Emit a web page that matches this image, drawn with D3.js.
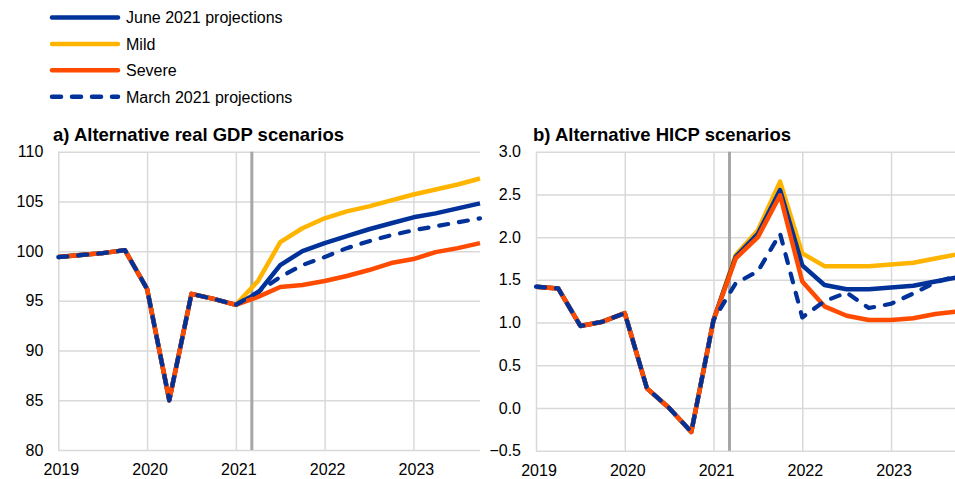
<!DOCTYPE html>
<html>
<head>
<meta charset="utf-8">
<script src="https://cdn.jsdelivr.net/npm/d3@7"></script>
<style>
  body { margin: 0; background: #fff; }
  svg { font-family: Arial, "Liberation Sans", sans-serif; }
  .grid line { stroke: #d9d9d9; stroke-width: 1.5; }
  .grid path { display: none; }
  .tick text { font-size: 16px; fill: #000; }
</style>
</head>
<body>
<div id="chart"></div>
<script>
// quarters 2019Q1 .. 2023Q4
var quarters = ["2019Q1","2019Q2","2019Q3","2019Q4","2020Q1","2020Q2","2020Q3","2020Q4",
                "2021Q1","2021Q2","2021Q3","2021Q4","2022Q1","2022Q2","2022Q3","2022Q4",
                "2023Q1","2023Q2","2023Q3","2023Q4"];
var years = [2019, 2020, 2021, 2022, 2023];
var cutoff = 2021.18;

// a) real GDP (index)
var gdpHist = [99.4, 99.6, 99.8, 100.1, 96.2, 85.0, 95.7, 95.2, 94.6];
var gdpJune = gdpHist.concat([95.8, 98.6, 100.0, 100.8, 101.5, 102.2, 102.8, 103.4, 103.8, 104.3, 104.8]);
var gdpMild = gdpHist.concat([97.0, 100.9, 102.3, 103.3, 104.0, 104.5, 105.1, 105.7, 106.2, 106.7, 107.3]);
var gdpSevere = gdpHist.concat([95.4, 96.4, 96.6, 97.0, 97.5, 98.1, 98.8, 99.2, 99.9, 100.3, 100.8]);
var gdpMarch = gdpHist.concat([95.9, 97.4, 98.6, 99.4, 100.3, 101.0, 101.6, 102.1, 102.5, 102.9, 103.3]);
var gdpTicks = [80, 85, 90, 95, 100, 105, 110];

// b) HICP (annual % change)
var hicpHist = [1.42, 1.40, 0.96, 1.01, 1.11, 0.23, 0.0, -0.28, 1.03];
var hicpJune = hicpHist.concat([1.77, 2.04, 2.55, 1.67, 1.44, 1.39, 1.39, 1.41, 1.43, 1.48, 1.53]);
var hicpMild = hicpHist.concat([1.79, 2.08, 2.65, 1.81, 1.66, 1.66, 1.66, 1.68, 1.70, 1.75, 1.80]);
var hicpSevere = hicpHist.concat([1.75, 2.00, 2.49, 1.48, 1.19, 1.08, 1.03, 1.03, 1.05, 1.10, 1.13]);
var hicpMarch = hicpHist.concat([1.46, 1.60, 2.04, 1.06, 1.25, 1.35, 1.17, 1.22, 1.34, 1.47, 1.55]);
var hicpTicks = [-0.5, 0.0, 0.5, 1.0, 1.5, 2.0, 2.5, 3.0];

var seriesNames = ["June 2021 projections", "Mild", "Severe", "March 2021 projections"];
var colors = { june: "#003299", mild: "#ffb400", severe: "#ff4b00", march: "#003299" };

var W = 955, H = 479;
var svg = d3.select("#chart").append("svg").attr("width", W).attr("height", H);

function qpos(q) {
  return +q.slice(0, 4) + (+q.slice(5) - 1) / 4;
}

// legend
var legend = [
  { name: seriesNames[0], color: colors.june, dash: null },
  { name: seriesNames[1], color: colors.mild, dash: null },
  { name: seriesNames[2], color: colors.severe, dash: null },
  { name: seriesNames[3], color: colors.march, dash: "9,11" }
];
var lg = svg.selectAll("g.legend").data(legend).enter().append("g")
  .attr("class", "legend")
  .attr("transform", function(d, i) { return "translate(0," + (17.5 + i * 26.4) + ")"; });
lg.append("line").attr("x1", 52).attr("x2", 118).attr("y1", 0).attr("y2", 0)
  .attr("stroke", function(d) { return d.color; })
  .attr("stroke-width", 4.5)
  .attr("stroke-linecap", "round")
  .attr("stroke-dasharray", function(d) { return d.dash; });
lg.append("text").attr("x", 126).attr("y", 5.8).attr("font-size", 16)
  .text(function(d) { return d.name; });

function panel(opt) {
  var x = d3.scaleLinear().domain([2019, 2023.75]).range([opt.x0, opt.x1]);
  var y = d3.scaleLinear().domain(opt.domain).range([opt.y1, opt.y0]);
  var g = svg.append("g");

  g.append("g").attr("class", "grid")
    .attr("transform", "translate(" + opt.x0 + ",0)")
    .call(d3.axisLeft(y).tickValues(opt.ticks).tickSize(-(opt.x1 - opt.x0)).tickPadding(15)
      .tickFormat(opt.fmt));

  g.append("g").attr("class", "grid")
    .attr("transform", "translate(0," + opt.y1 + ")")
    .call(d3.axisBottom(x).tickValues(years).tickSize(-(opt.y1 - opt.y0)).tickPadding(14)
      .tickFormat(d3.format("d")))
    .selectAll("text").attr("dx", 2.5);

  g.append("line")
    .attr("x1", x(cutoff)).attr("x2", x(cutoff))
    .attr("y1", opt.y0).attr("y2", opt.y1)
    .attr("stroke", "#a6a6a6").attr("stroke-width", 3);

  g.append("text").attr("x", opt.tx).attr("y", 140.5)
    .attr("font-size", 18.5).attr("font-weight", "bold")
    .text(opt.title);

  var line = d3.line()
    .x(function(d, i) { return x(qpos(quarters[i])); })
    .y(function(d) { return y(d); });

  opt.series.forEach(function(s) {
    g.append("path").datum(s.values)
      .attr("fill", "none")
      .attr("stroke", s.color)
      .attr("stroke-width", s.dash ? 4.2 : 4.5)
      .attr("stroke-linejoin", "round")
      .attr("stroke-linecap", s.dash ? "round" : "butt")
      .attr("stroke-dasharray", s.dash)
      .attr("d", line);
  });
}

panel({
  x0: 58.3, x1: 480, y0: 151.7, y1: 450,
  domain: [80, 110], ticks: gdpTicks, fmt: d3.format("d"),
  tx: 53, title: "a) Alternative real GDP scenarios",
  series: [
    { values: gdpMild, color: colors.mild },
    { values: gdpJune, color: colors.june },
    { values: gdpSevere, color: colors.severe },
    { values: gdpMarch, color: colors.march, dash: "9,11" }
  ]
});

panel({
  x0: 536, x1: 957.6, y0: 151.7, y1: 450.7,
  domain: [-0.5, 3], ticks: hicpTicks, fmt: d3.format(".1f"),
  tx: 533, title: "b) Alternative HICP scenarios",
  series: [
    { values: hicpMild, color: colors.mild },
    { values: hicpJune, color: colors.june },
    { values: hicpSevere, color: colors.severe },
    { values: hicpMarch, color: colors.march, dash: "9,11" }
  ]
});
</script>
</body>
</html>
